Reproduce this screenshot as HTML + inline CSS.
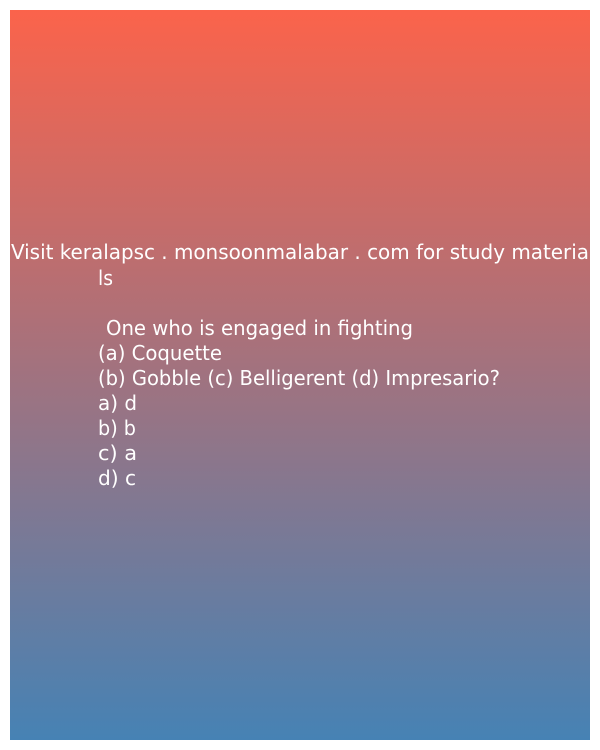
<!DOCTYPE html>
<html><head><meta charset="utf-8"><style>
html,body{margin:0;padding:0;background:#fff;}
svg{display:block;}
text{font-family:"DejaVu Sans Condensed","DejaVu Sans","Liberation Sans",sans-serif;font-size:20px;fill:#fff;}
</style></head><body>
<svg width="600" height="750">
<defs><linearGradient id="g" x1="0" y1="0" x2="0" y2="1">
<stop offset="0" stop-color="#fb634b"/><stop offset="1" stop-color="#4682b4"/></linearGradient></defs>
<rect x="10" y="10" width="580" height="730" fill="url(#g)"/>
<text x="11" y="259" textLength="578" lengthAdjust="spacingAndGlyphs">Visit keralapsc . monsoonmalabar . com for study materia</text>
<text x="98" y="285" textLength="15" lengthAdjust="spacingAndGlyphs">ls</text>
<text x="106" y="335" textLength="307" lengthAdjust="spacingAndGlyphs">One who is engaged in fighting</text>
<text x="98" y="360" textLength="124" lengthAdjust="spacingAndGlyphs">(a) Coquette</text>
<text x="98" y="385" textLength="402" lengthAdjust="spacingAndGlyphs">(b) Gobble (c) Belligerent (d) Impresario?</text>
<text x="98" y="410" textLength="39" lengthAdjust="spacingAndGlyphs">a) d</text>
<text x="98" y="435" textLength="38" lengthAdjust="spacingAndGlyphs">b) b</text>
<text x="98" y="460" textLength="39" lengthAdjust="spacingAndGlyphs">c) a</text>
<text x="98" y="485" textLength="38" lengthAdjust="spacingAndGlyphs">d) c</text>
</svg>
</body></html>
